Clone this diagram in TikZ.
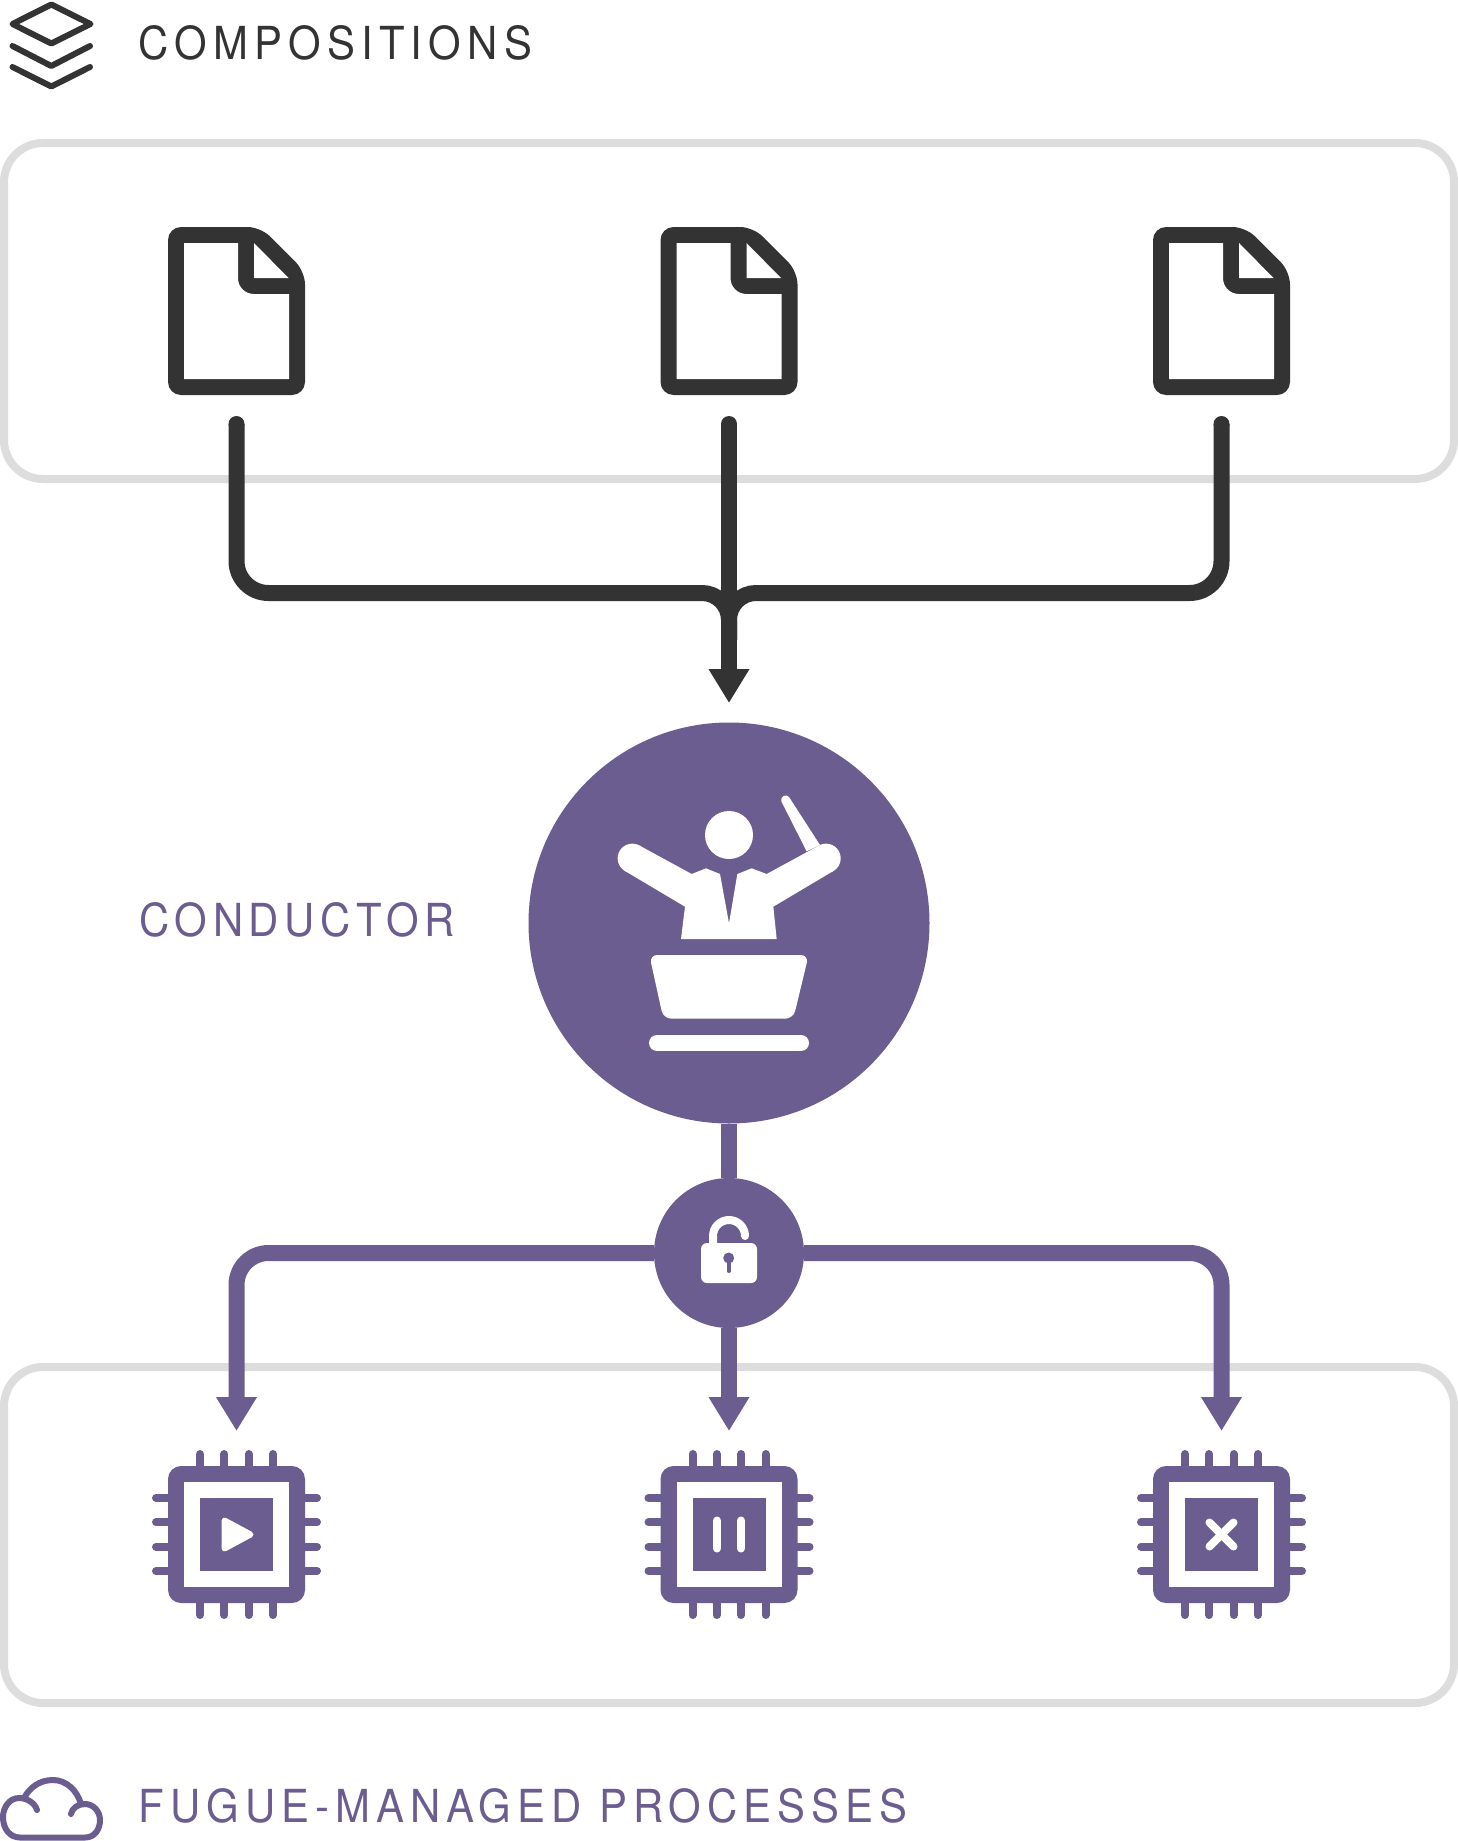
\documentclass[tikz,border=0pt]{standalone}
\usepackage{fontspec}
\setmainfont{TeX Gyre Heros}
\newfontfamily\labelfont[FakeStretch=0.92]{TeX Gyre Heros}
\usetikzlibrary{arrows.meta,calc}
\definecolor{ink}{HTML}{333333}
\definecolor{plum}{HTML}{6C5D90}
\definecolor{frame}{HTML}{DDDDDD}
\tikzset{
  panel/.style={draw=frame,line width=8pt,rounded corners=39pt},
  inkline/.style={draw=ink,line width=16pt,line cap=round},
  plumline/.style={draw=plum,line width=16pt},
  tipped/.style={-{Triangle[length=34pt,width=38.5pt]}},
  heading/.style={anchor=base west,inner sep=0pt,font=\labelfont\fontsize{45.5}{50}\selectfont},
  pin/.style={draw=plum,line width=8pt,line cap=round},
  glyph/.style={draw=white,line width=8pt,line cap=round,line join=round},
  stackline/.style={draw=ink,line width=6pt,line cap=round,line join=round},
}
\newcommand{\docglyph}[1]{%
  \begin{scope}[shift={(#1,0)}]
    \fill[ink,rounded corners=13pt] (-68.5,227) -- (24.1,227) -- (68.5,271.4) -- (68.5,395) -- (-68.5,395) -- cycle;
    \fill[white] (-52.5,243) -- (1.5,243) -- (1.5,278) .. controls (1.5,287) and (8.5,294) .. (17.5,294) -- (52.5,294) -- (52.5,379) -- (-52.5,379) -- cycle;
    \fill[white] (17.5,243) -- (52,278) -- (17.5,278) -- cycle;
  \end{scope}}
\newcommand{\chipglyph}[1]{%
  \begin{scope}[shift={(#1,1534.5)}]
    \foreach \p in {-36.5,-12.2,12.2,36.5}{
      \draw[pin] (\p,-80.5) -- (\p,-60);
      \draw[pin] (\p,80.5) -- (\p,60);
      \draw[pin] (-80.5,\p) -- (-60,\p);
      \draw[pin] (80.5,\p) -- (60,\p);
    }
    \fill[plum,rounded corners=13pt] (-68.5,-68.5) rectangle (68.5,68.5);
    \fill[white] (-52.5,-52.5) rectangle (52.5,52.5);
    \fill[plum] (-36.5,-36.5) rectangle (36.5,36.5);
  \end{scope}}
\begin{document}
\begin{tikzpicture}[x=1pt,y=-1pt]
\useasboundingbox (0,0) rectangle (1458,1841);
\fill[white] (0,0) rectangle (1458,1841);

% panels
\draw[panel] (4,143) rectangle (1454,479);
\draw[panel] (4,1367) rectangle (1454,1703);

% layered icon
\draw[stackline] (12.5,24) -- (51.3,4.5) -- (90.5,24) -- (51.3,43.5) -- cycle;
\draw[stackline] (12.5,46) -- (51.3,66) -- (90,46);
\draw[stackline] (12.5,67) -- (51.3,86.5) -- (90,67);
\node[heading,text=ink] (composLabel) at (138,59.5) {\addfontfeature{LetterSpace=13.7}COMPOSITIONS};

% files
\docglyph{236.5}
\docglyph{729}
\docglyph{1221.5}

% merging connectors
\coordinate (srcA) at (236.5,424);
\coordinate (srcB) at (729,424);
\coordinate (srcC) at (1221.5,424);
\coordinate (merge) at (729,593);
\coordinate (mergeEnd) at (729,640);
\coordinate (mergeTip) at (729,703);
\draw[inkline,line cap=butt,rounded corners=32pt] (srcA) -- (srcA|-merge) [rounded corners=27pt] -- (merge) -- (mergeEnd);
\draw[inkline,line cap=butt,rounded corners=32pt] (srcC) -- (srcC|-merge) [rounded corners=27pt] -- (merge) -- (mergeEnd);
\draw[inkline,tipped] (srcB) -- (mergeTip);
\fill[ink] (srcA) circle (8pt) (srcC) circle (8pt);

% conductor
\node[circle,fill=plum,minimum size=401pt,inner sep=0pt] (conductor) at (729,923) {};
\node[heading,text=plum,anchor=base west] (conductorLabel) at (139,936) {\addfontfeature{LetterSpace=12.6}CONDUCTOR};
\begin{scope}[shift={(580,760)},x=0.33333pt,y=-0.33333pt]
  \fill[white] (447,225) circle (24pt);
  \fill[white] (157,295) circle (14.7pt) (738,295) circle (14.7pt);
  \fill[white] (179,257) -- (335,342) -- (378,325) -- (420,342) -- (447,490) -- (472,342)
     -- (515,325) -- (560,342) -- (716,257) -- (760,333) -- (580,440) -- (590,537)
     -- (303,537) -- (315,440) -- (135,333) -- cycle;
  \fill[white,line join=round] (680,274) -- (604,124) .. controls (600,110) and (618,100) .. (627,111) -- (720,255) -- cycle;
  \fill[white,rounded corners=8pt] (208,585) -- (686,585) -- (640,776) -- (250,776) -- cycle;
  \draw[white,line width=16pt,line cap=round] (231,849) -- (663,849);
\end{scope}

% lock
\node[circle,fill=plum,minimum size=150pt,inner sep=0pt] (lock) at (729,1253) {};
\draw[plumline] (conductor.south) -- (lock.north);
\coordinate (tipA) at (236.5,1431);
\coordinate (tipB) at (729,1431);
\coordinate (tipC) at (1221.5,1431);
\draw[plumline,tipped,rounded corners=32pt] (lock.west) -| (tipA);
\draw[plumline,tipped,rounded corners=32pt] (lock.east) -| (tipC);
\draw[plumline,tipped] (lock.south) -- (tipB);
\fill[white,rounded corners=6pt] (701,1243) rectangle (757,1283);
\draw[white,line width=8pt,line cap=round] (713,1246) -- (713,1236) arc[start angle=180,end angle=360,x radius=16,y radius=16];
\fill[plum] (728.7,1258) circle (5.5pt);
\draw[plum,line width=4pt,line cap=round] (728.7,1258) -- (728.7,1271);

% chips
\chipglyph{236.5}
\chipglyph{729}
\chipglyph{1221.5}
\begin{scope}[shift={(236.5,1534.5)}]
  \draw[draw=white,fill=white,line width=6pt,line join=round] (-12,-14) -- (14,0) -- (-12,14) -- cycle;
\end{scope}
\begin{scope}[shift={(729,1534.5)}]
  \draw[glyph] (-12,-14) -- (-12,14);
  \draw[glyph] (12,-14) -- (12,14);
\end{scope}
\begin{scope}[shift={(1221.5,1534.5)}]
  \draw[glyph] (-12,-12) -- (12,12);
  \draw[glyph] (12,-12) -- (-12,12);
\end{scope}

% cloud
\draw[draw=plum,line width=6pt,line cap=round,line join=round]
  (37,1810) .. controls (35,1803) and (27,1798) .. (19,1798)
  .. controls (9,1798) and (3,1808) .. (3,1817)
  .. controls (3,1829) and (10,1837.5) .. (20,1837.5)
  -- (85,1837.5)
  .. controls (95,1837.5) and (100,1829) .. (100,1820)
  .. controls (100,1811) and (93,1804) .. (85,1804)
  .. controls (78,1804) and (72,1808) .. (71,1814);
\draw[draw=plum,line width=6pt,line cap=round]
  (24,1798) .. controls (30,1787) and (40,1780) .. (53,1780)
  .. controls (66,1780) and (77,1790) .. (81,1804);
\node[heading,text=plum] (fugueLabel) at (138.5,1822) {\addfontfeature{LetterSpace=13.3}FUGUE-MANAGED PROCESSES};
\end{tikzpicture}
\end{document}
